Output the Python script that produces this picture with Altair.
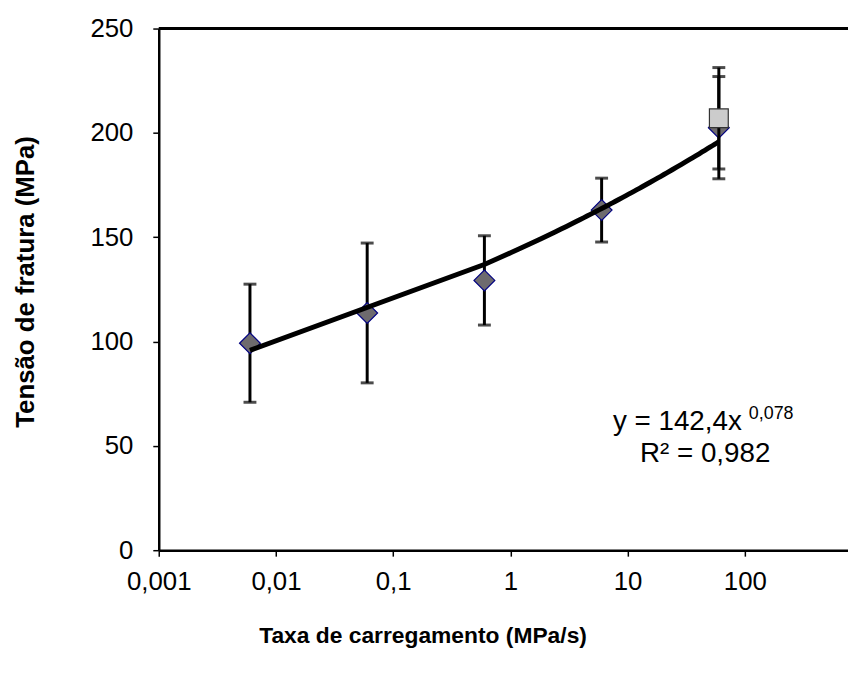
import altair as alt
import pandas as pd

# Series 1 (diamonds)
rate = [0.006, 0.06, 0.6, 6, 60]
stress = [99.2, 113.7, 129.3, 163.0, 202.5]
stress_err = [28.3, 33.5, 21.4, 15.3, 24.5]

# Series 2 (square)
rate2 = [60]
stress2 = [207.0]
stress2_err = [24.3]

x_ticks = [0.001, 0.01, 0.1, 1, 10, 100]
y_ticks = [0, 50, 100, 150, 200, 250]

eq_main = ["y = 142,4x"]
eq_exp = ["0,078"]
eq_r2 = ["R² = 0,982"]

d1 = pd.DataFrame({"x": rate, "y": stress, "e": stress_err})
d1["lo"] = d1["y"] - d1["e"]
d1["hi"] = d1["y"] + d1["e"]
d2 = pd.DataFrame({"x": rate2, "y": stress2, "e": stress2_err})
d2["lo"] = d2["y"] - d2["e"]
d2["hi"] = d2["y"] + d2["e"]
dtext = pd.DataFrame({"main": eq_main, "exp": eq_exp, "r2": eq_r2})

FONT = "Liberation Sans"

xscale = alt.Scale(type="log", domain=[0.001, 10 ** 2.88], nice=False)
yscale = alt.Scale(domain=[0, 250], nice=False)

xaxis = alt.Axis(
    values=x_ticks, labelExpr="replace(toString(datum.value), '.', ',')",
    title="Taxa de carregamento (MPa/s)", grid=False, labelFlush=False,
    domainColor="black", domainWidth=2.5, tickColor="black", tickWidth=1.5, tickSize=6,
    labelFont=FONT, labelFontSize=26, labelColor="black", labelPadding=13,
    titleFont=FONT, titleFontSize=23, titleFontWeight="bold", titleColor="black",
    titleX=266, titleY=86, titleAnchor="middle", titleAlign="center", titleBaseline="middle",
)
yaxis = alt.Axis(
    values=y_ticks, title="Tensão de fratura (MPa)", grid=False, labelFlush=False,
    domainColor="black", domainWidth=2.5, tickColor="black", tickWidth=1.5, tickSize=6,
    labelFont=FONT, labelFontSize=26, labelColor="black", labelPadding=20,
    titleFont=FONT, titleFontSize=26, titleFontWeight="bold", titleColor="black",
    titleX=-134, titleY=255, titleAngle=270, titleAlign="center", titleBaseline="middle",
)

X = alt.X("x:Q", scale=xscale, axis=xaxis)
Y = alt.Y("y:Q", scale=yscale, axis=yaxis)

base1 = alt.Chart(d1)
base2 = alt.Chart(d2)

bars1 = base1.mark_rule(color="black", strokeWidth=3).encode(
    x=alt.X("x:Q", scale=xscale), y=alt.Y("lo:Q", scale=yscale), y2="hi:Q")
caps1_lo = base1.mark_tick(color="black", thickness=3, size=13, orient="horizontal").encode(
    x=alt.X("x:Q", scale=xscale), y=alt.Y("lo:Q", scale=yscale))
caps1_hi = base1.mark_tick(color="black", thickness=3, size=13, orient="horizontal").encode(
    x=alt.X("x:Q", scale=xscale), y=alt.Y("hi:Q", scale=yscale))
pts1 = base1.mark_point(shape="diamond", filled=True, fill="#6e6b6e", stroke="#000080",
                        strokeWidth=1.2, size=441, opacity=1).encode(x=X, y=Y)

trend = base1.transform_regression("x", "y", method="pow").mark_line(
    color="black", strokeWidth=5).encode(x=alt.X("x:Q", scale=xscale), y=alt.Y("y:Q", scale=yscale))

bars2 = base2.mark_rule(color="black", strokeWidth=3).encode(
    x=alt.X("x:Q", scale=xscale), y=alt.Y("lo:Q", scale=yscale), y2="hi:Q")
caps2_lo = base2.mark_tick(color="black", thickness=3, size=13, orient="horizontal").encode(
    x=alt.X("x:Q", scale=xscale), y=alt.Y("lo:Q", scale=yscale))
caps2_hi = base2.mark_tick(color="black", thickness=3, size=13, orient="horizontal").encode(
    x=alt.X("x:Q", scale=xscale), y=alt.Y("hi:Q", scale=yscale))
pts2 = base2.mark_point(shape="square", filled=True, fill="#cccccc", stroke="#333333",
                        strokeWidth=1.2, size=361, opacity=1).encode(
    x=alt.X("x:Q", scale=xscale), y=alt.Y("y:Q", scale=yscale))

tbase = alt.Chart(dtext)
top_border = tbase.mark_rule(color="black", strokeWidth=3).encode(y=alt.datum(250))

eq1 = tbase.mark_text(font=FONT, fontSize=28, fontWeight="normal",
                      color="black", align="left", baseline="middle").encode(
    text="main:N", x=alt.value(458), y=alt.value(397))
eq_sup = tbase.mark_text(font=FONT, fontSize=18, fontWeight="normal",
                         color="black", align="left", baseline="middle").encode(
    text="exp:N", x=alt.value(595), y=alt.value(389))
eq2 = tbase.mark_text(font=FONT, fontSize=28, fontWeight="normal",
                      color="black", align="center", baseline="middle").encode(
    text="r2:N", x=alt.value(551), y=alt.value(429))

chart = alt.layer(
    bars1, caps1_lo, caps1_hi, pts1, trend, bars2, caps2_lo, caps2_hi, pts2, top_border,
    eq1, eq_sup, eq2,
).properties(
    width=695, height=526,
    autosize=alt.AutoSizeParams(type="none"),
    padding={"left": 152, "top": 18, "right": 0, "bottom": 110},
).configure_view(stroke=None).configure(background="white")

chart.save("out.html", embed_options={"renderer": "svg", "actions": False})
